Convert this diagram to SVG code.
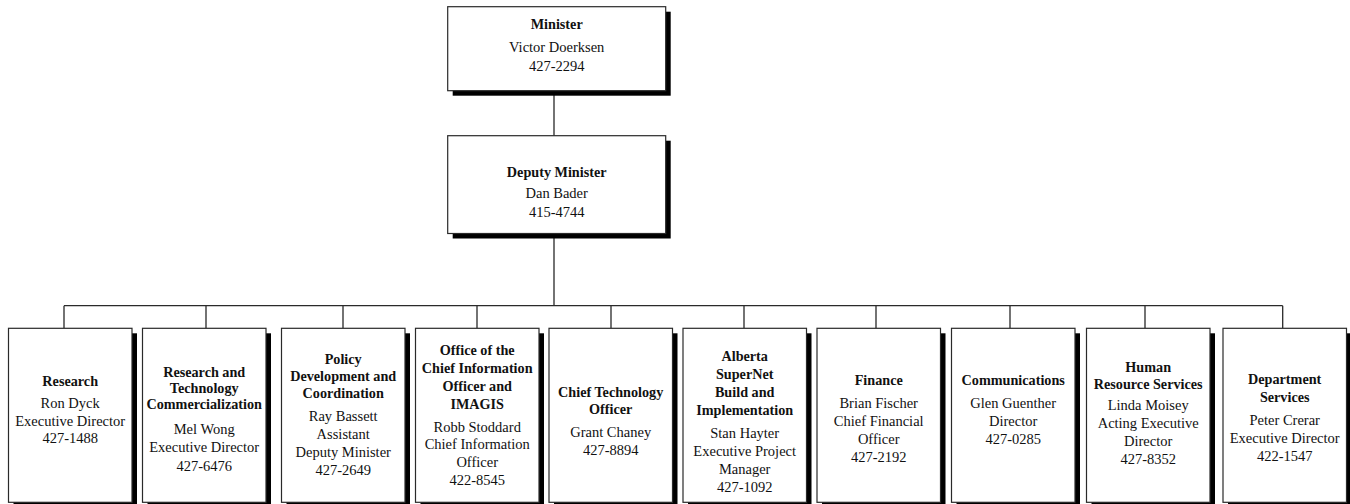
<svg xmlns="http://www.w3.org/2000/svg" width="1350" height="504" viewBox="0 0 1350 504">
<style>
.bg{fill:#ffffff}
.sh{fill:#000000}
.bx{fill:#ffffff;stroke:#2a2a2a;stroke-width:1.2}
.ln{fill:none;stroke:#2a2a2a;stroke-width:1.3}
text{font-family:"Liberation Serif","Times New Roman",serif;text-anchor:middle;fill:#111111}
.b{font-weight:bold;font-size:14.2px}
.r{font-size:14.5px}
</style>
<rect class="bg" x="0" y="0" width="1350" height="504"/>
<g id="connectors">
<path class="ln" d="M554 90.7V135.7M554 233.5V305.7M64 305.7H1282.7M64 305.7V328.3M206 305.7V328.3M343 305.7V328.3M477 305.7V328.3M611 305.7V328.3M744 305.7V328.3M876 305.7V328.3M1010 305.7V328.3M1145 305.7V328.3M1282.7 305.7V328.3"/>
</g>
<g id="minister">
<rect class="sh" x="452.7" y="11.7" width="218" height="84"/>
<rect class="bx" x="447.7" y="6.7" width="218" height="84"/>
<text class="b" x="556.7" y="29.3">Minister</text>
<text class="r" x="556.7" y="51.7">Victor Doerksen</text>
<text class="r" x="556.7" y="70.7">427-2294</text>
</g>
<g id="deputy-minister">
<rect class="sh" x="452.7" y="140.7" width="218" height="97.8"/>
<rect class="bx" x="447.7" y="135.7" width="218" height="97.8"/>
<text class="b" x="556.7" y="176.7">Deputy Minister</text>
<text class="r" x="556.7" y="198.3">Dan Bader</text>
<text class="r" x="556.7" y="216.7">415-4744</text>
</g>
<g id="research">
<rect class="sh" x="13.5" y="333.3" width="123.5" height="174"/>
<rect class="bx" x="8.5" y="328.3" width="123.5" height="174"/>
<text class="b" x="70.2" y="385.7">Research</text>
<text class="r" x="70.2" y="407.7">Ron Dyck</text>
<text class="r" x="70.2" y="425.5">Executive Director</text>
<text class="r" x="70.2" y="443.3">427-1488</text>
</g>
<g id="research-tech">
<rect class="sh" x="147.5" y="333.3" width="123.5" height="174"/>
<rect class="bx" x="142.5" y="328.3" width="123.5" height="174"/>
<text class="b" x="204.2" y="376.7">Research and</text>
<text class="b" x="204.2" y="392.5">Technology</text>
<text class="b" x="204.2" y="409">Commercialization</text>
<text class="r" x="204.2" y="433.5">Mel Wong</text>
<text class="r" x="204.2" y="452">Executive Director</text>
<text class="r" x="204.2" y="470.5">427-6476</text>
</g>
<g id="policy">
<rect class="sh" x="286.5" y="333.3" width="123.5" height="174"/>
<rect class="bx" x="281.5" y="328.3" width="123.5" height="174"/>
<text class="b" x="343.2" y="364">Policy</text>
<text class="b" x="343.2" y="381">Development and</text>
<text class="b" x="343.2" y="398.3">Coordination</text>
<text class="r" x="343.2" y="420.7">Ray Bassett</text>
<text class="r" x="343.2" y="438.8">Assistant</text>
<text class="r" x="343.2" y="456.7">Deputy Minister</text>
<text class="r" x="343.2" y="474.8">427-2649</text>
</g>
<g id="cio">
<rect class="sh" x="420.5" y="333.3" width="123.5" height="174"/>
<rect class="bx" x="415.5" y="328.3" width="123.5" height="174"/>
<text class="b" x="477.2" y="355">Office of the</text>
<text class="b" x="477.2" y="373">Chief Information</text>
<text class="b" x="477.2" y="390.7">Officer and</text>
<text class="b" x="477.2" y="408.7">IMAGIS</text>
<text class="r" x="477.2" y="431.5">Robb Stoddard</text>
<text class="r" x="477.2" y="449.2">Chief Information</text>
<text class="r" x="477.2" y="466.9">Officer</text>
<text class="r" x="477.2" y="484.8">422-8545</text>
</g>
<g id="cto">
<rect class="sh" x="554" y="333.3" width="123.5" height="174"/>
<rect class="bx" x="549" y="328.3" width="123.5" height="174"/>
<text class="b" x="610.7" y="397.3">Chief Technology</text>
<text class="b" x="610.7" y="414.3">Officer</text>
<text class="r" x="610.7" y="436.7">Grant Chaney</text>
<text class="r" x="610.7" y="454.5">427-8894</text>
</g>
<g id="supernet">
<rect class="sh" x="688" y="333.3" width="123.5" height="174"/>
<rect class="bx" x="683" y="328.3" width="123.5" height="174"/>
<text class="b" x="744.7" y="361">Alberta</text>
<text class="b" x="744.7" y="379">SuperNet</text>
<text class="b" x="744.7" y="396.7">Build and</text>
<text class="b" x="744.7" y="414.7">Implementation</text>
<text class="r" x="744.7" y="437.7">Stan Hayter</text>
<text class="r" x="744.7" y="455.7">Executive Project</text>
<text class="r" x="744.7" y="473.9">Manager</text>
<text class="r" x="744.7" y="491.7">427-1092</text>
</g>
<g id="finance">
<rect class="sh" x="822" y="333.3" width="123.5" height="174"/>
<rect class="bx" x="817" y="328.3" width="123.5" height="174"/>
<text class="b" x="878.7" y="385">Finance</text>
<text class="r" x="878.7" y="407.7">Brian Fischer</text>
<text class="r" x="878.7" y="425.7">Chief Financial</text>
<text class="r" x="878.7" y="443.5">Officer</text>
<text class="r" x="878.7" y="461.5">427-2192</text>
</g>
<g id="communications">
<rect class="sh" x="956.5" y="333.3" width="123.5" height="174"/>
<rect class="bx" x="951.5" y="328.3" width="123.5" height="174"/>
<text class="b" x="1013.2" y="385">Communications</text>
<text class="r" x="1013.2" y="407.7">Glen Guenther</text>
<text class="r" x="1013.2" y="425.7">Director</text>
<text class="r" x="1013.2" y="443.5">427-0285</text>
</g>
<g id="hr">
<rect class="sh" x="1091.5" y="333.3" width="123.5" height="174"/>
<rect class="bx" x="1086.5" y="328.3" width="123.5" height="174"/>
<text class="b" x="1148.2" y="372.3">Human</text>
<text class="b" x="1148.2" y="389.3">Resource Services</text>
<text class="r" x="1148.2" y="410">Linda Moisey</text>
<text class="r" x="1148.2" y="428.2">Acting Executive</text>
<text class="r" x="1148.2" y="446">Director</text>
<text class="r" x="1148.2" y="463.5">427-8352</text>
</g>
<g id="department-services">
<rect class="sh" x="1228" y="333.3" width="123.5" height="174"/>
<rect class="bx" x="1223" y="328.3" width="123.5" height="174"/>
<text class="b" x="1284.7" y="383.5">Department</text>
<text class="b" x="1284.7" y="401.5">Services</text>
<text class="r" x="1284.7" y="425">Peter Crerar</text>
<text class="r" x="1284.7" y="442.8">Executive Director</text>
<text class="r" x="1284.7" y="460.7">422-1547</text>
</g>
</svg>
